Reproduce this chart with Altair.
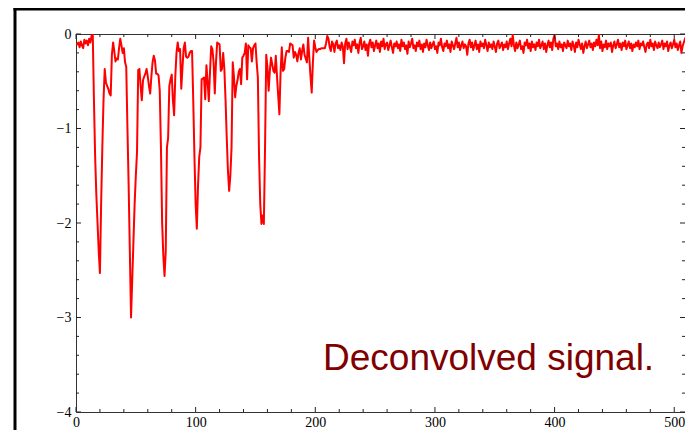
import altair as alt
import pandas as pd

# ---- data (sample index 0..511) ----
signal_000_099 = [
    -0.10, -0.11, -0.09, -0.14, -0.08, -0.12, -0.15, -0.06, -0.10, -0.07,
    -0.12, -0.05, -0.09, -0.02, 0.00, -0.70, -1.30, -1.70, -2.00, -2.30,
    -2.53, -1.80, -1.20, -0.70, -0.37, -0.51, -0.55, -0.58, -0.63, -0.65,
    -0.22, -0.09, -0.18, -0.29, -0.26, -0.27, -0.15, -0.05, -0.12, -0.20,
    -0.15, -0.30, -0.35, -1.00, -1.60, -2.30, -3.00, -2.60, -2.20, -1.80,
    -1.50, -1.25, -0.38, -0.37, -0.55, -0.70, -0.49, -0.45, -0.42, -0.37,
    -0.45, -0.55, -0.63, -0.45, -0.30, -0.23, -0.28, -0.42, -0.42, -0.44,
    -0.60, -1.20, -2.00, -2.35, -2.56, -2.30, -1.20, -1.10, -0.55, -0.48,
    -0.43, -0.70, -0.86, -0.45, -0.20, -0.09, -0.18, -0.16, -0.58, -0.35,
    -0.15, -0.09, -0.24, -0.25, -0.24, -0.20, -0.18, -0.18, -0.70, -1.30,
]
signal_100_209 = [
    -1.80, -2.06, -1.60, -1.30, -1.20, -0.48, -0.47, -0.46, -0.69, -0.33,
    -0.50, -0.71, -0.40, -0.13, -0.16, -0.30, -0.63, -0.30, -0.09, -0.10,
    -0.11, -0.39, -0.37, -0.20, -0.37, -0.70, -1.10, -1.45, -1.66, -1.50,
    -1.20, -0.30, -0.45, -0.67, -0.55, -0.49, -0.40, -0.37, -0.53, -0.25,
    -0.23, -0.20, -0.10, -0.48, -0.12, -0.14, -0.15, -0.29, -0.15, -0.12,
    -0.10, -0.30, -0.46, -1.30, -1.80, -2.01, -1.92, -2.01, -1.20, -0.22,
    -0.35, -0.60, -0.39, -0.25, -0.32, -0.39, -0.41, -0.23, -0.45, -0.65,
    -0.85, -0.40, -0.14, -0.39, -0.37, -0.25, -0.18, -0.18, -0.19, -0.10,
    -0.11, -0.12, -0.25, -0.19, -0.22, -0.29, -0.20, -0.15, -0.27, -0.18,
    -0.11, -0.22, -0.26, -0.30, -0.04, -0.25, -0.45, -0.62, -0.30, -0.07,
    -0.14, -0.19, -0.17, -0.16, -0.16, -0.15, -0.15, -0.15, -0.15, -0.10,
]
signal_210_349 = [
    -0.02, -0.05, -0.14, -0.18, -0.08, -0.11, -0.19, -0.10, -0.07, -0.15,
    -0.12, -0.17, -0.09, -0.13, -0.31, -0.10, -0.05, -0.16, -0.09, -0.14,
    -0.19, -0.08, -0.12, -0.06, -0.15, -0.11, -0.20, -0.09, -0.04, -0.16,
    -0.13, -0.08, -0.17, -0.11, -0.23, -0.10, -0.06, -0.14, -0.09, -0.18,
    -0.12, -0.07, -0.15, -0.10, -0.19, -0.08, -0.13, -0.05, -0.16, -0.11,
    -0.09, -0.17, -0.12, -0.07, -0.14, -0.20, -0.10, -0.13, -0.08, -0.15,
    -0.11, -0.18, -0.06, -0.13, -0.09, -0.16, -0.12, -0.21, -0.08, -0.14,
    -0.10, -0.05, -0.15, -0.12, -0.18, -0.09, -0.13, -0.07, -0.16, -0.11,
    -0.19, -0.10, -0.14, -0.06, -0.12, -0.17, -0.09, -0.15, -0.11, -0.08,
    -0.16, -0.13, -0.20, -0.09, -0.12, -0.05, -0.14, -0.18, -0.10, -0.13,
    -0.07, -0.15, -0.11, -0.19, -0.08, -0.12, -0.16, -0.10, -0.04, -0.14,
    -0.09, -0.17, -0.12, -0.08, -0.15, -0.11, -0.13, -0.22, -0.10, -0.06,
    -0.14, -0.09, -0.17, -0.12, -0.07, -0.16, -0.11, -0.19, -0.08, -0.13,
    -0.10, -0.15, -0.06, -0.12, -0.18, -0.09, -0.14, -0.11, -0.16, -0.08,
]
signal_350_511 = [
    -0.13, -0.19, -0.10, -0.07, -0.15, -0.12, -0.09, -0.17, -0.11, -0.14,
    -0.08, -0.16, -0.10, -0.05, -0.13, -0.01, -0.12, -0.18, -0.09, -0.15,
    -0.11, -0.07, -0.16, -0.13, -0.20, -0.09, -0.12, -0.06, -0.15, -0.10,
    -0.18, -0.08, -0.14, -0.11, -0.17, -0.09, -0.13, -0.06, -0.15, -0.12,
    -0.08, -0.16, -0.10, -0.19, -0.12, -0.07, -0.14, -0.09, -0.17, -0.05,
    -0.01, -0.13, -0.10, -0.16, -0.08, -0.14, -0.11, -0.18, -0.09, -0.12,
    -0.15, -0.07, -0.13, -0.10, -0.17, -0.08, -0.12, -0.19, -0.09, -0.14,
    -0.06, -0.11, -0.16, -0.10, -0.20, -0.13, -0.08, -0.15, -0.11, -0.07,
    -0.14, -0.10, -0.17, -0.09, -0.13, -0.06, -0.12, -0.01, -0.15, -0.08,
    -0.18, -0.11, -0.14, -0.07, -0.16, -0.10, -0.13, -0.09, -0.19, -0.12,
    -0.08, -0.15, -0.11, -0.06, -0.14, -0.10, -0.17, -0.09, -0.13, -0.07,
    -0.16, -0.12, -0.08, -0.15, -0.10, -0.18, -0.11, -0.14, -0.09, -0.13,
    -0.07, -0.16, -0.10, -0.12, -0.08, -0.14, -0.19, -0.11, -0.09, -0.15,
    -0.06, -0.13, -0.10, -0.17, -0.08, -0.12, -0.15, -0.09, -0.14, -0.11,
    -0.07, -0.16, -0.10, -0.13, -0.08, -0.18, -0.12, -0.09, -0.15, -0.11,
    -0.06, -0.14, -0.10, -0.17, -0.12, -0.08, -0.20, -0.13, -0.09, -0.05,
    -0.03, -0.08,
]

x_tick_labels = [0, 100, 200, 300, 400, 500]
y_tick_labels = [0, -1, -2, -3, -4]
x_minor_ticks = [20, 40, 60, 80, 120, 140, 160, 180, 220, 240, 260, 280,
                 320, 340, 360, 380, 420, 440, 460, 480]
y_minor_ticks = [-0.2, -0.4, -0.6, -0.8, -1.2, -1.4, -1.6, -1.8, -2.2, -2.4,
                 -2.6, -2.8, -3.2, -3.4, -3.6, -3.8]
caption = "Deconvolved signal."

values = signal_000_099 + signal_100_209 + signal_210_349 + signal_350_511
df = pd.DataFrame({"sample": list(range(len(values))), "signal": values})

W, H = 609, 378
xs = alt.Scale(domain=[0, 509], nice=False, zero=False)
ys = alt.Scale(domain=[-4, 0], nice=False, zero=False)
SERIF = "Liberation Serif"

x_axis = alt.Axis(
    values=x_tick_labels, title=None, ticks=False, domain=False, grid=False,
    labelFont=SERIF, labelFontSize=14, labelColor="black", labelPadding=3,
    labelFlush=False, labelOverlap=False)
y_axis = alt.Axis(
    values=y_tick_labels, title=None, ticks=False, domain=False, grid=False,
    labelFont=SERIF, labelFontSize=14, labelColor="black", labelPadding=5,
    labelFlush=False, labelOverlap=False,
    labelExpr="datum.value == 0 ? '0' : '\u2212' + abs(datum.value)")

one = pd.DataFrame({"k": [0]})

frame_left = alt.Chart(one).mark_rule(color="black", strokeWidth=3).encode(
    x=alt.value(-61), y=alt.value(-27), y2=alt.value(H + 60))
frame_top = alt.Chart(one).mark_rule(color="black", strokeWidth=3).encode(
    y=alt.value(-25), x=alt.value(-62.5), x2=alt.value(W + 10))

line = alt.Chart(df).mark_line(color="#ff0000", strokeWidth=2, strokeJoin="round",
                               clip=True).encode(
    x=alt.X("sample:Q", scale=xs, axis=x_axis),
    y=alt.Y("signal:Q", scale=ys, axis=y_axis),
)

def xticks(vals, length):
    d = pd.DataFrame({"v": vals})
    base = alt.Chart(d).mark_rule(color="#222", strokeWidth=1)
    xe = alt.X("v:Q", scale=xs, axis=x_axis)
    bottom = base.encode(x=xe, y=alt.value(H), y2=alt.value(H - length))
    top = base.encode(x=xe, y=alt.value(0), y2=alt.value(length))
    return [bottom, top]

def yticks(vals, length):
    d = pd.DataFrame({"v": vals})
    base = alt.Chart(d).mark_rule(color="#222", strokeWidth=1)
    ye = alt.Y("v:Q", scale=ys, axis=y_axis)
    left = base.encode(y=ye, x=alt.value(0), x2=alt.value(length))
    right = base.encode(y=ye, x=alt.value(W), x2=alt.value(W - length))
    return [left, right]

ticks = xticks(x_tick_labels, 5) + xticks(x_minor_ticks, 3) + \
    yticks(y_tick_labels, 5) + yticks(y_minor_ticks, 3)

label = alt.Chart(one).mark_text(
    text=caption, font="Liberation Sans", fontSize=37, color="#800000",
    align="left", baseline="alphabetic"
).encode(x=alt.value(247), y=alt.value(336))

chart = alt.layer(frame_left, frame_top, line, *ticks, label).properties(
    width=W, height=H,
    autosize=alt.AutoSizeParams(type="none"),
    padding={"left": 68, "top": 26, "right": 0, "bottom": 18},
).configure_view(stroke="#333", strokeWidth=1)

chart.save("out.html", embed_options={"renderer": "svg", "actions": False})
